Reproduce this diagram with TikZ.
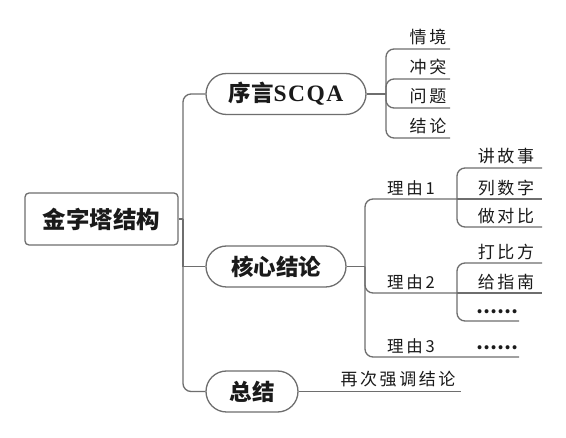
\documentclass[tikz,border=0pt]{standalone}
\usepackage{fontspec}
\setmainfont{Noto Sans CJK SC}
\newfontfamily\latinb{Liberation Serif}
\definecolor{linegray}{HTML}{6E6E6E}
\definecolor{txt}{HTML}{1A1A1A}
\begin{document}
\begin{tikzpicture}[x=1pt,y=-1pt,
  ln/.style={draw=linegray, line width=1.3pt},
  rc/.style={rounded corners=8pt},
  rootbox/.style={draw=linegray, line width=1.3pt, rounded corners=4pt, minimum width=153pt, minimum height=52pt, inner sep=0pt, text=txt, font=\bfseries\fontsize{23.5}{23.5}\selectfont},
  pill/.style={draw=linegray, line width=1.3pt, rounded corners=20.5pt, minimum height=41pt, inner sep=0pt, text=txt, font=\bfseries\fontsize{22.5}{22.5}\selectfont},
  leaf/.style={inner sep=0pt, text=txt, font=\fontsize{17}{17}\selectfont\addfontfeature{LetterSpace=15}},
  dots/.style={inner sep=0pt, text=txt, font=\bfseries\fontsize{18.5}{18.5}\selectfont},
  reason/.style={inner sep=0pt, text=txt, font=\fontsize{16.5}{16.5}\selectfont\addfontfeature{LetterSpace=17}}
]
\useasboundingbox (0,0) rectangle (566,438);
\fill[white] (0,0) rectangle (566,438);

% main nodes
\node[rootbox] (root) at (101.5,219) {金字塔结构};
\node[pill, minimum width=160pt] (p1) at (286,94) {序言{\latinb\bfseries\fontsize{23.5}{23.5}\selectfont\addfontfeature{LetterSpace=6}SCQA}};
\node[pill, minimum width=140pt] (p2) at (276,266.5) {核心结论};
\node[pill, minimum width=92pt] (p3) at (252,391.5) {总结};

% trunk
\coordinate (j0) at (183,219);
\draw[ln] (root.east) -- (j0);
\draw[ln,rc] (j0) |- (p1.west);
\draw[ln] (j0) -- (p2.west -| j0) -- (p2.west);
\draw[ln,rc] (j0) |- (p3.west);

% SCQA branch
\coordinate (j1) at (386,94);
\coordinate (e11) at (450,49);
\coordinate (e12) at (450,79);
\coordinate (e13) at (450,108);
\coordinate (e14) at (450,138);
\draw[ln] (p1.east) -- (j1);
\draw[ln,rc] (j1) |- (e11);
\draw[ln,rc] (j1) |- (e12);
\draw[ln,rc] (j1) |- (e13);
\draw[ln,rc] (j1) |- (e14);
\node[leaf] (t11) at (428,37) {情境};
\node[leaf] (t12) at (428,67) {冲突};
\node[leaf] (t13) at (428,96) {问题};
\node[leaf] (t14) at (428,126) {结论};

% core branch
\coordinate (j2) at (365,266.5);
\draw[ln] (p2.east) -- (j2);
\coordinate (r1) at (457,199);
\coordinate (r2) at (457,293);
\coordinate (e4) at (519,357);
\draw[ln,rc] (j2) |- (r1);
\draw[ln,rc] (j2) |- (r2);
\draw[ln,rc] (j2) |- (e4);
\node[reason] (n1) at (411,188) {理由1};
\node[reason] (n2) at (411,282) {理由2};
\node[reason] (n3) at (411,346) {理由3};

\coordinate (e21) at (542,168);
\coordinate (e22) at (542,199);
\coordinate (e23) at (542,227);
\draw[ln,rc] (r1) |- (e21);
\draw[ln] (r1) -- (e22);
\draw[ln,rc] (r1) |- (e23);
\node[leaf] (t21) at (506,156) {讲故事};
\node[leaf] (t22) at (506,188) {列数字};
\node[leaf] (t23) at (506,216) {做对比};

\coordinate (e31) at (542,263);
\coordinate (e32) at (542,293);
\coordinate (e33) at (519,321);
\draw[ln,rc] (r2) |- (e31);
\draw[ln] (r2) -- (e32);
\draw[ln,rc] (r2) |- (e33);
\node[leaf] (t31) at (506,252) {打比方};
\node[leaf] (t32) at (506,282) {给指南};
\node[dots] (t33) at (497,312) {……};
\node[dots] (t4) at (497,348) {……};

% summary
\coordinate (e5) at (461,391.5);
\draw[ln] (p3.east) -- (e5);
\node[leaf] (t5) at (398,379) {再次强调结论};
\end{tikzpicture}
\end{document}
